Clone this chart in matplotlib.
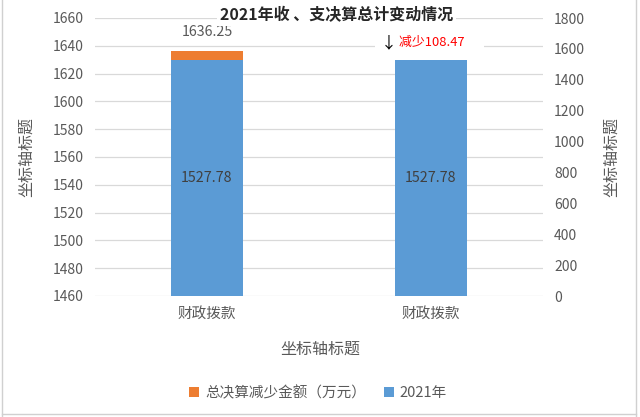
import matplotlib
matplotlib.use('Agg')
from matplotlib import pyplot as plt
from matplotlib.lines import Line2D

plt.rcParams['font.family'] = ['Noto Sans CJK SC', 'DejaVu Sans']

# data
categories = ['财政拨款', '财政拨款']
decrease_total = [1636.25, 1527.78]   # 总决算减少金额（万元）, left axis
year_2021 = [1527.78, 1527.78]        # 2021年, right axis
left_ticks = list(range(1460, 1661, 20))
right_ticks = list(range(0, 1801, 200))

title = '2021年收 、支决算总计变动情况'
axis_title = '坐标轴标题'
series_names = ['总决算减少金额（万元）', '2021年']

orange = '#ED7D31'
blue = '#5B9BD5'
grey = '#595959'
grid = '#D9D9D9'

fig = plt.figure(figsize=(6.4, 4.17), dpi=100)
ax = fig.add_axes([95 / 640, 1 - 296 / 417, 448 / 640, 278 / 417])
x = list(range(len(categories)))
width = 0.317

# orange series on the primary axis
b1 = ax.bar(x, decrease_total, width, color=orange, label=series_names[0], zorder=2)
ax.set_ylim(left_ticks[0], left_ticks[-1])
ax.set_yticks(left_ticks)
ax.set_xlim(-0.5, len(categories) - 0.5)
ax.set_xticks(x)
ax.set_xticklabels(categories)
ax.grid(axis='y', color=grid, lw=0.9, zorder=0)
ax.set_axisbelow(True)
for s in ax.spines.values():
    s.set_visible(False)
ax.tick_params(length=0, colors=grey, labelsize=10)
ax.tick_params(axis='y', pad=8)
ax.tick_params(axis='x', pad=8, labelsize=10.5)
ax.bar_label(b1, labels=[f'{decrease_total[0]:.2f}', ''], padding=9,
             color=grey, fontsize=10.3)
ax.set_ylabel(axis_title, color=grey, fontsize=11.5)
ax.yaxis.set_label_coords(-0.134, 0.5)
ax.set_xlabel(axis_title, color=grey, fontsize=11.5)
ax.xaxis.set_label_coords(0.502, -0.162)

# blue series on the secondary axis, drawn over the orange one
ax2 = ax.twinx()
b2 = ax2.bar(x, year_2021, width, color=blue, label=series_names[1], zorder=2)
ax2.set_ylim(right_ticks[0], right_ticks[-1])
ax2.set_yticks(right_ticks)
for s in ax2.spines.values():
    s.set_visible(False)
ax2.tick_params(length=0, colors=grey, labelsize=10, pad=8)
ax2.bar_label(b2, labels=[f'{v:.2f}' for v in year_2021], label_type='center',
              color='#404040', fontsize=10.3)
ax2.set_ylabel(axis_title, color=grey, fontsize=11.5)
ax2.yaxis.set_label_coords(1.134, 0.5)

# decrease note above the second bar
diff = decrease_total[0] - year_2021[1]
ax.text(x[1] - 0.19, 1642.5, '↓', color='black', fontsize=11.5, ha='center', va='center',
        bbox=dict(facecolor='white', edgecolor='none', pad=4), zorder=5)
ax.text(x[1] - 0.145, 1642.5, f'减少{diff:.2f}' + '      ', color='#FF0000', fontsize=9.3,
        ha='left', va='center',
        bbox=dict(facecolor='white', edgecolor='none', pad=2), zorder=5)

fig.text(0.526, 1 - 15 / 417, title, ha='center', va='center', fontsize=11.5,
         fontweight='bold', color='#262626',
         bbox=dict(facecolor='white', edgecolor='none', pad=2))

handles = [b1, b2]
fig.legend(handles, series_names, loc='center', bbox_to_anchor=(0.497, 1 - 393 / 417),
           ncol=2, frameon=False, fontsize=10.5, handlelength=0.7, handleheight=0.7,
           columnspacing=1.2, handletextpad=0.4, labelcolor=grey)

# light sheet border around the chart
for xs, ys in [([2 / 640, 2 / 640], [0, 1]), ([636 / 640, 636 / 640], [0, 1]),
               ([2 / 640, 636 / 640], [3 / 417, 3 / 417])]:
    fig.add_artist(Line2D(xs, ys, color='#D0D0D0', lw=1))

fig.savefig('out.png', dpi=100)
